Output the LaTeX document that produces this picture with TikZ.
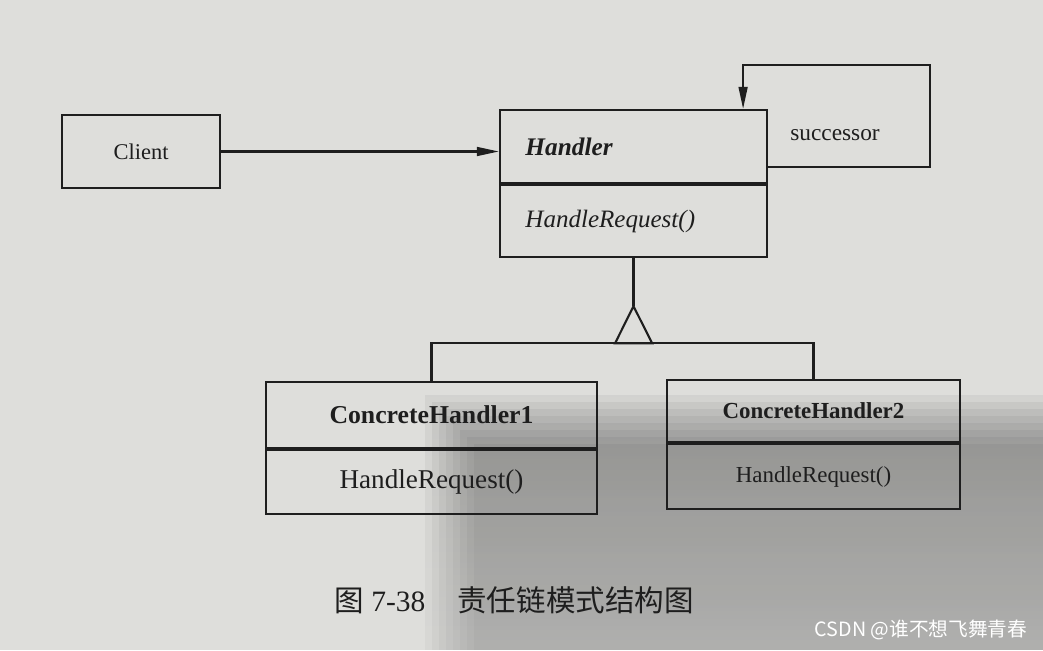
\documentclass[tikz,border=0pt]{standalone}
\usepackage{fontspec}
\setmainfont{Liberation Serif}
\newfontfamily\cjk{Noto Sans CJK SC}
\usetikzlibrary{positioning,arrows.meta}
\definecolor{paper}{RGB}{222,222,219}
\definecolor{shade}{RGB}{130,108,86}
\definecolor{ink}{RGB}{30,30,30}
\tikzset{>={Triangle[length=0.55cm,width=0.22cm]},
  cls/.style={draw=ink,line width=1.5pt,inner sep=0pt,text=ink},
  link/.style={draw=ink,line width=1.5pt},
  sz/.style={font=\fontsize{#1}{#1}\selectfont}}
\begin{document}
\begin{tikzpicture}[x=0.025cm,y=-0.025cm]
\useasboundingbox (0,0) rectangle (1043,650);
\fill[paper] (0,0) rectangle (1043,650);
\foreach \i in {0,...,7}
  \fill[shade,opacity=0.035] ({425+7*\i},{395+7*\i}) rectangle (1043,650);
\node[cls,sz=16,minimum width=3.95cm,minimum height=1.825cm] (client) at (141,151.5) {Client};
\node[cls,sz=18,minimum width=6.675cm,minimum height=1.825cm,text width=5.4cm,align=left] (handler) at (633.5,146.5) {\textbf{\textit{Handler}}};
\node[cls,sz=17.8,below=0pt of handler,minimum width=6.675cm,minimum height=1.8cm,text width=5.4cm,align=left] (handlerop) {\textit{HandleRequest()}};
\node[cls,sz=18.3,minimum width=8.275cm,minimum height=1.65cm] (conc1) at (431.5,415) {\textbf{ConcreteHandler1}};
\node[cls,sz=19.3,below=0pt of conc1,minimum width=8.275cm,minimum height=1.6cm] (conc1op) {HandleRequest()};
\node[cls,sz=16.3,minimum width=7.325cm,minimum height=1.55cm] (conc2) at (813.5,411) {\textbf{ConcreteHandler2}};
\node[cls,sz=16.3,below=0pt of conc2,minimum width=7.325cm,minimum height=1.625cm] (conc2op) {HandleRequest()};
\node[sz=16.6,text=ink] (succ) at (835,135) {successor};
\draw[link,->] (client) -- (client -| handler.west);
\draw[link,->] ([yshift=-0.51cm]handler.east) -| (930,65) -| ([xshift=-0.625cm]handler.north east);
\draw[link] (handlerop.south) -- ++(0,-1.2cm) coordinate (apex);
\draw[link] (apex) -- ++(-0.46cm,-0.925cm) coordinate (base) -- ++(0.925cm,0) -- cycle;
\draw[link] (conc1.north) |- (base) -| (conc2.north);
\node[sz=21,text=ink] (caption) at (514,600) {{\cjk 图} 7-38\hspace{0.8cm}{\cjk 责任链模式结构图}};
\node[text=white,font={\cjk\fontsize{14}{14}\selectfont}] (mark) at (921,630) {CSDN @谁不想飞舞青春};
\end{tikzpicture}
\end{document}
